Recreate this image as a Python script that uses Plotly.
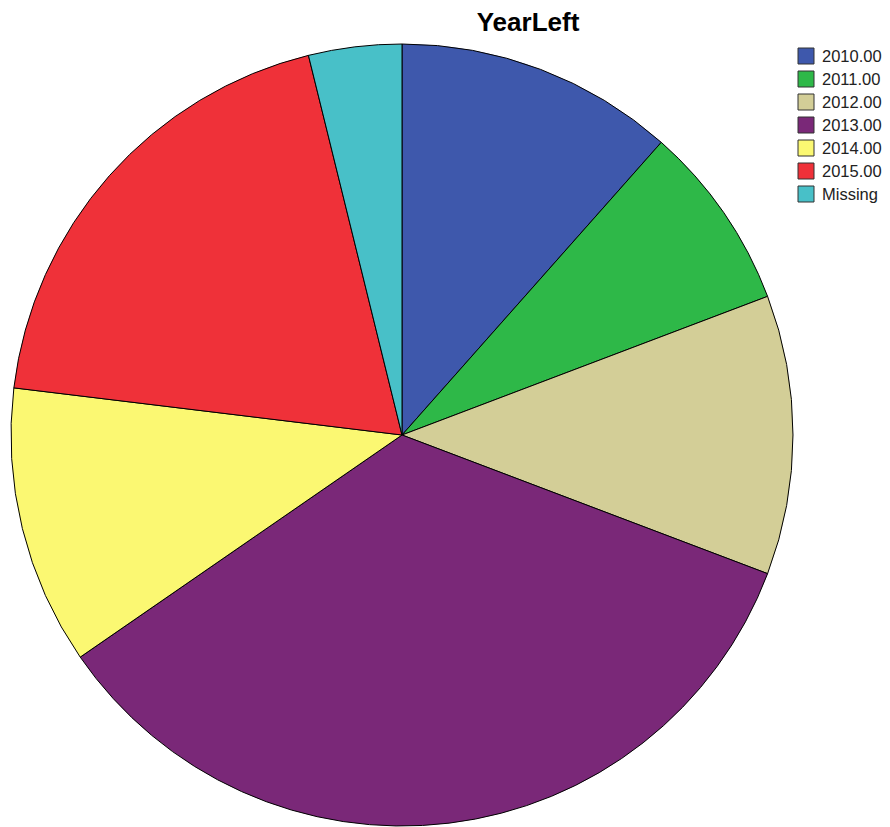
import plotly.graph_objects as go

labels = ["2010.00", "2011.00", "2012.00", "2013.00", "2014.00", "2015.00", "Missing"]
counts = [3, 2, 3, 9, 3, 5, 1]
colors = ["#3E58AC", "#2EB848", "#D3CE97", "#7A2878", "#FBF872", "#EF3139", "#48C0C8"]

W, H = 890, 827
cx, cy, r = 402, 435, 391

fig = go.Figure(go.Pie(
    labels=labels, values=counts, sort=False, direction="clockwise", rotation=0,
    marker=dict(colors=colors, line=dict(color="black", width=1)),
    textinfo="none", hoverinfo="label+value+percent", showlegend=False,
    domain=dict(x=[(cx - r) / W, (cx + r) / W], y=[(H - cy - r) / H, (H - cy + r) / H]),
))

# custom legend (SPSS style): larger swatches with dark border
shapes, annots = [], []
y0, step, sz, sx, tx = 56, 23, 16, 798, 820
for i, (lab, col) in enumerate(zip(labels, colors)):
    yc = y0 + i * step
    shapes.append(dict(type="rect", xref="paper", yref="paper",
                       x0=sx / W, x1=(sx + sz) / W,
                       y0=1 - (yc + sz / 2) / H, y1=1 - (yc - sz / 2) / H,
                       fillcolor=col, line=dict(color="#333333", width=1)))
    annots.append(dict(text=lab, xref="paper", yref="paper", x=tx / W, y=1 - yc / H,
                       xanchor="left", yanchor="middle", showarrow=False,
                       font=dict(size=16.5, color="#222222")))

fig.update_layout(
    width=W, height=H,
    margin=dict(l=0, r=0, t=0, b=0),
    paper_bgcolor="white",
    font=dict(family="Liberation Sans, Arial, sans-serif", color="black"),
    title=dict(text="<b>YearLeft</b>", x=528 / W, xanchor="center", y=1 - 22 / H, yanchor="middle",
               yref="container", font=dict(size=26, color="black")),
    shapes=shapes, annotations=annots,
)

fig.write_html("out.html")
